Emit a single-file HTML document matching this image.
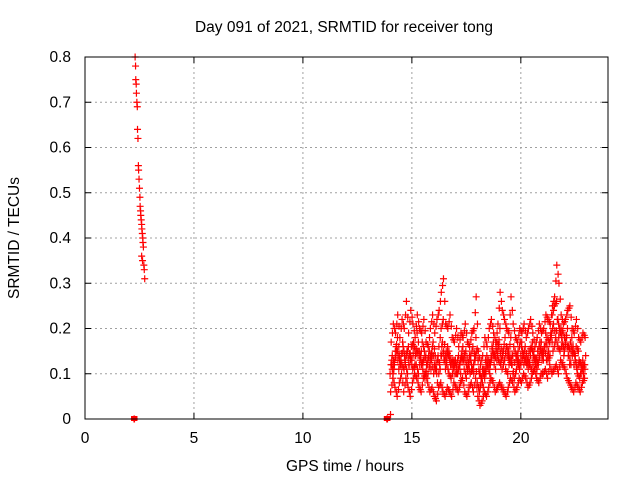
<!DOCTYPE html>
<html><head><meta charset="utf-8"><style>
body{margin:0;background:#fff;}
svg{display:block;font-family:"Liberation Sans",sans-serif;}
</style></head><body>
<svg id="chart" width="640" height="480" viewBox="0 0 640 480">
<rect width="640" height="480" fill="#fff"/>
<text x="344" y="32" font-size="15.5" text-anchor="middle">Day 091 of 2021, SRMTID for receiver tong</text>
<text transform="translate(19,238) rotate(-90)" font-size="15.5" text-anchor="middle">SRMTID / TECUs</text>
<text x="345" y="471" font-size="15.5" text-anchor="middle">GPS time / hours</text>
<g id="grid"></g><g id="ticks"></g><g id="marks"></g>
<rect x="85" y="57" width="523" height="362" fill="none" stroke="#000" stroke-width="1"/>
</svg>
<script>
const xTicks=[0,5,10,15,20];
const yTicks=[0,0.1,0.2,0.3,0.4,0.5,0.6,0.7,0.8];
const yTickLabels=["0","0.1","0.2","0.3","0.4","0.5","0.6","0.7","0.8"];
const earlyTimes=[2.3,2.32,2.33,2.35,2.36,2.38,2.4,2.41,2.43,2.45,2.46,2.48,2.5,2.52,2.53,2.55,2.56,2.58,2.6,2.61,2.63,2.65,2.66,2.68,2.6,2.64,2.7,2.72,2.74];
const earlyValues=[0.8,0.78,0.75,0.74,0.72,0.70,0.69,0.64,0.62,0.56,0.55,0.53,0.51,0.49,0.47,0.46,0.45,0.44,0.43,0.42,0.41,0.40,0.39,0.38,0.36,0.35,0.34,0.33,0.31];
const zeroTimes=[2.25,2.27,13.85,13.88];
const zeroValues=[0,0,0,0];
const hours=[14.0,14.1,14.2,14.3,14.4,14.5,14.6,14.7,14.8,14.9,15.0,15.1,15.2,15.3,15.4,15.5,15.6,15.7,15.8,15.9,16.0,16.1,16.2,16.3,16.4,16.5,16.6,16.7,16.8,16.9,17.0,17.1,17.2,17.3,17.4,17.5,17.6,17.7,17.8,17.9,18.0,18.1,18.2,18.3,18.4,18.5,18.6,18.7,18.8,18.9,19.0,19.1,19.2,19.3,19.4,19.5,19.6,19.7,19.8,19.9,20.0,20.1,20.2,20.3,20.4,20.5,20.6,20.7,20.8,20.9,21.0,21.1,21.2,21.3,21.4,21.5,21.6,21.7,21.8,21.9,22.0,22.1,22.2,22.3,22.4,22.5,22.6,22.7,22.8,22.9];
const sA=[.10,.14,.12,.15,.11,.13,.16,.12,.10,.14,.13,.16,.12,.10,.14,.11,.09,.12,.15,.13,.10,.12,.14,.11,.17,.13,.12,.10,.09,.11,.13,.10,.12,.15,.11,.09,.12,.14,.16,.13,.08,.06,.09,.11,.10,.13,.12,.15,.14,.17,.16,.13,.15,.11,.10,.14,.12,.09,.11,.13,.12,.14,.16,.13,.12,.11,.14,.13,.12,.15,.14,.16,.18,.17,.19,.21,.18,.16,.15,.17,.15,.18,.14,.12,.16,.13,.10,.09,.11,.12];
const sB=[.17,.21,.19,.23,.18,.22,.20,.26,.19,.24,.21,.18,.23,.20,.19,.22,.17,.16,.20,.23,.19,.22,.24,.28,.31,.21,.20,.23,.18,.17,.20,.16,.19,.18,.21,.17,.16,.19,.20,.27,.15,.12,.14,.18,.16,.20,.22,.19,.17,.21,.28,.24,.22,.20,.19,.27,.21,.18,.17,.20,.19,.21,.18,.20,.22,.19,.16,.18,.21,.19,.20,.23,.22,.21,.25,.27,.34,.30,.23,.21,.22,.24,.25,.20,.19,.22,.18,.17,.19,.18];
const sC=[.06,.09,.07,.05,.08,.10,.06,.09,.07,.05,.08,.10,.09,.07,.06,.09,.10,.08,.06,.07,.05,.04,.07,.08,.06,.05,.07,.06,.05,.08,.07,.06,.08,.09,.06,.05,.07,.08,.06,.09,.05,.03,.04,.06,.05,.07,.09,.08,.06,.07,.08,.07,.06,.05,.07,.09,.08,.06,.07,.09,.08,.10,.09,.07,.08,.10,.11,.09,.08,.10,.10,.11,.09,.12,.10,.11,.12,.10,.13,.12,.11,.09,.08,.07,.06,.08,.07,.06,.08,.09];
const sD=[.13,.11,.16,.14,.12,.17,.13,.15,.12,.16,.17,.14,.15,.13,.17,.15,.12,.14,.11,.17,.14,.08,.12,.16,.13,.15,.14,.12,.13,.10,.10,.12,.14,.13,.15,.12,.10,.11,.13,.15,.11,.09,.07,.13,.12,.10,.16,.12,.15,.13,.12,.15,.18,.14,.13,.12,.16,.13,.15,.17,.15,.13,.12,.15,.16,.14,.12,.15,.17,.13,.16,.13,.15,.19,.15,.17,.22,.20,.18,.14,.18,.14,.17,.15,.14,.11,.13,.12,.10,.14];
const sE=[.12,.10,.15,.18,.14,.12,.11,.14,.16,.13,.11,.12,.19,.15,.12,.13,.14,.10,.13,.16,.12,.10,.16,.20,.22,.11,.16,.14,.12,.13,.12,.14,.10,.16,.13,.11,.14,.12,.10,.18,.13,.07,.11,.09,.14,.11,.14,.17,.11,.15,.20,.11,.13,.16,.15,.18,.10,.15,.13,.11,.17,.12,.14,.11,.14,.17,.13,.11,.14,.17,.13,.19,.13,.14,.23,.25,.26,.18,.20,.19,.17,.20,.12,.18,.12,.16,.15,.10,.13,.11];

const NS="http://www.w3.org/2000/svg";
const X0=85,X1=608,Y0=419,Y1=57;
function xs(h){return X0+h/24*(X1-X0);}
function ys(v){return Y0-v/0.8*(Y0-Y1);}
function mk(tag,attrs,parent){const e=document.createElementNS(NS,tag);for(const k in attrs)e.setAttribute(k,attrs[k]);parent.appendChild(e);return e;}
const grid=document.getElementById('grid'),ticks=document.getElementById('ticks'),marks=document.getElementById('marks');
xTicks.forEach(t=>{
  const x=xs(t);
  if(t>0){const g=mk('line',{x1:x,x2:x,y1:Y1,y2:Y0,stroke:'#a0a0a0','stroke-dasharray':'2,3'},grid);
  
  }
  mk('line',{x1:x,x2:x,y1:Y0,y2:Y0-6,stroke:'#000'},ticks);
  mk('line',{x1:x,x2:x,y1:Y1,y2:Y1+6,stroke:'#000'},ticks);
  const l=mk('text',{x:x,y:Y0+24,'font-size':15.5,'text-anchor':'middle'},ticks);l.textContent=t;
  
  
});
yTicks.forEach((t,i)=>{
  const y=ys(t);
  if(i>0&&i<yTicks.length-1){const g=mk('line',{x1:X0,x2:X1,y1:y,y2:y,stroke:'#a0a0a0','stroke-dasharray':'2,3'},grid);
  
  }
  mk('line',{x1:X0,x2:X0+6,y1:y,y2:y,stroke:'#000'},ticks);
  mk('line',{x1:X1,x2:X1-6,y1:y,y2:y,stroke:'#000'},ticks);
  const l=mk('text',{x:X0-14,y:y+5,'font-size':15.5,'text-anchor':'end'},ticks);l.textContent=yTickLabels[i];
  
  
});
function plus(h,v){
  const x=xs(h),y=ys(v);
  const p=mk('path',{d:`M${x-3.5},${y}h7M${x},${y-3.5}v7`,stroke:'#f00','stroke-width':1.2,fill:'none'},marks);
  
  
}
earlyTimes.forEach((t,i)=>plus(t,earlyValues[i]));
zeroTimes.forEach((t,i)=>{plus(t,zeroValues[i]);const r=mk('rect',{x:xs(t)-3,y:ys(zeroValues[i])-3,width:6,height:5,fill:'#f00'},marks);

});
plus(14.02,0.01);
const series=[sA,sB,sC,sD,sE],offs=[0,0.05,0.025,0.075,0.04];
series.forEach((s,k)=>s.forEach((v,i)=>plus(hours[i]+offs[k],v)));
series.forEach((s,k)=>s.forEach((v,i)=>{if(i<hours.length-1)plus(hours[i]+offs[k]+0.06,(v+s[i+1])/2);}));
</script>
</body></html>
